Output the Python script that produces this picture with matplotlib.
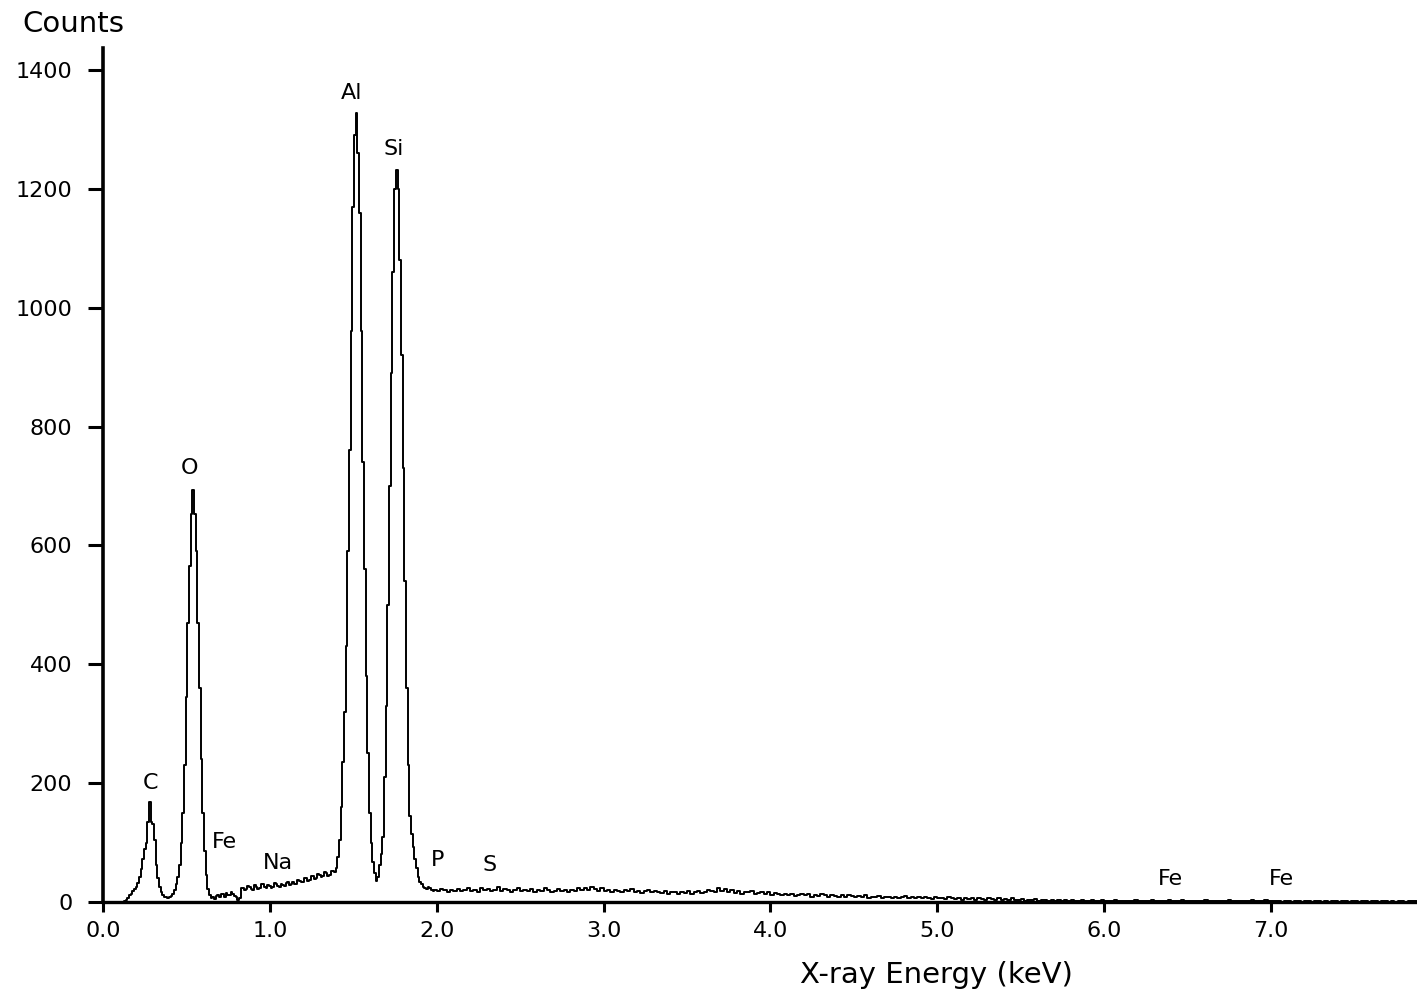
import numpy as np
import matplotlib
matplotlib.use("Agg")
import matplotlib.pyplot as plt

# ---- data -------------------------------------------------------------
# fine channels (0.01 keV) covering the peak region, 0.12 .. 1.99 keV
fine_start = 0.12
fine_width = 0.01
fine_counts = [
    0, 2, 4, 7, 11, 14, 18, 22, 26, 32,
    42, 55, 72, 90, 100, 135, 168, 135, 132, 104,
    62, 40, 25, 16, 12, 9, 8, 7, 9, 10,
    14, 20, 30, 42, 62, 100, 150, 230, 345, 470,
    565, 653, 693, 653, 590, 470, 360, 240, 150, 85,
    45, 22, 12, 6, 8, 5, 10, 12, 8, 14,
    13, 9, 15, 12, 11, 16, 14, 10, 9, 4,
    7, 24, 24, 20, 22, 27, 25, 22, 21, 28,
    26, 22, 24, 31, 30, 25, 23, 28, 27, 24,
    25, 32, 31, 27, 26, 30, 29, 27, 32, 34,
    28, 31, 33, 30, 31, 37, 36, 33, 34, 41,
    40, 36, 37, 44, 43, 39, 41, 47, 46, 42,
    44, 50, 48, 44, 46, 53, 52, 50, 58, 75,
    105, 160, 235, 320, 430, 590, 760, 960, 1170, 1290,
    1328, 1260, 1160, 960, 740, 560, 380, 250, 150, 100,
    68, 48, 36, 42, 62, 80, 110, 210, 330, 500,
    700, 890, 1060, 1200, 1232, 1200, 1080, 920, 730, 540,
    360, 230, 145, 115, 92, 72, 58, 42, 34, 30,
    26, 24, 22, 25, 24, 20, 19, 21,
]

# coarse channels (0.02 keV) for the background, 2.01 .. 7.87 keV
coarse_start = 2.01
coarse_width = 0.02
coarse_counts = [
    18, 22, 20, 17, 21, 19,
    22, 18, 20, 23, 19, 21, 17, 24, 20, 22, 18, 21, 25, 19, 22, 20, 17, 21, 23, 19,
    20, 18, 22, 17, 21, 19, 23, 20, 16, 19, 22, 18, 20, 17, 21, 19, 23, 20, 24, 21,
    26, 22, 19, 23, 18, 20, 17, 21, 19, 16, 20, 18, 22, 17, 19, 15, 18, 20, 16, 19,
    17, 15, 18, 14, 17, 16, 13, 17, 15, 18, 14, 16, 19, 15, 17, 21, 18, 16, 24, 19,
    22, 17, 20, 15, 18, 14, 17, 16, 19, 13, 15, 17, 14, 16, 12, 15, 13, 11, 14, 12,
    13, 10, 12, 14, 11, 13, 9, 12, 10, 13, 11, 9, 12, 10, 8, 11, 9, 12, 10, 8,
    10, 9, 11, 7, 9, 8, 10, 7, 9, 8, 6, 9, 7, 8, 10, 6, 8, 7, 9, 6,
    8, 7, 5, 8, 6, 7, 5, 8, 6, 5, 7, 4, 6, 5, 7, 4, 6, 5, 3, 6,
    5, 4, 6, 3, 5, 4, 6, 3, 4, 5, 2, 4, 3, 5, 2, 3, 4, 2, 3, 2,
    3, 2, 4, 2, 3, 1, 2, 3, 1, 2, 4, 2, 1, 3, 2, 1, 2, 3, 1, 2,
    1, 2, 1, 3, 2, 1, 2, 1, 3, 1, 2, 1, 2, 4, 1, 2, 1, 3, 1, 2,
    1, 2, 1, 1, 3, 1, 2, 1, 1, 2, 1, 3, 1, 2, 1, 1, 2, 1, 3, 1,
    2, 1, 3, 1, 1, 2, 1, 0, 1, 1, 0, 1, 1, 0, 1, 1, 0, 1, 1, 0,
    1, 0, 1, 1, 0, 2, 1, 0, 1, 1, 0, 1, 1, 0, 1, 2, 0, 1, 1, 0,
    1, 0, 1, 1, 0, 1, 1, 1,
]

peak_labels = ["C", "O", "Fe", "Na", "Al", "Si", "P", "S", "Fe", "Fe"]
label_energy = [0.282, 0.521, 0.725, 1.049, 1.492, 1.744, 2.008, 2.319, 6.40, 7.06]
label_counts = [200, 730, 101, 66, 1361, 1267, 71, 62, 39, 39]

x_ticks = [0.0, 1.0, 2.0, 3.0, 4.0, 5.0, 6.0, 7.0]
x_tick_labels = ["0.0", "1.0", "2.0", "3.0", "4.0", "5.0", "6.0", "7.0"]
y_ticks = [0, 200, 400, 600, 800, 1000, 1200, 1400]

energy = np.concatenate([
    fine_start + fine_width * np.arange(len(fine_counts)),
    coarse_start + coarse_width * np.arange(len(coarse_counts)),
])
counts = np.concatenate([fine_counts, coarse_counts])

# ---- figure -----------------------------------------------------------
plt.rcParams['font.family'] = ['DejaVu Sans']
fig = plt.figure(figsize=(14.17, 9.99), dpi=100)
ax = fig.add_axes([103 / 1417, 1 - 902 / 999, 1 - 103 / 1417, (902 - 48) / 999])

ax.plot(energy, counts, drawstyle="steps-mid", color="black", lw=1.4)

ax.set_xlim(0, 7.875)
ax.set_ylim(0, 1437)

for s in ["top", "right"]:
    ax.spines[s].set_visible(False)
ax.spines["left"].set_linewidth(2.6)
ax.spines["bottom"].set_linewidth(2.4)

ax.set_xticks(x_ticks)
ax.set_xticklabels(x_tick_labels)
ax.set_yticks(y_ticks)
ax.tick_params(axis="x", direction="out", length=7, width=2.2, pad=7, labelsize=16)
ax.tick_params(axis="y", direction="out", length=11, width=2.2, pad=11, labelsize=16)

for lab, e, c in zip(peak_labels, label_energy, label_counts):
    ax.text(e, c, lab, ha="center", va="center", fontsize=16, color="black")

fig.text(22 / 1417, 1 - 24 / 999, "Counts", ha="left", va="center", fontsize=21)
fig.text(936 / 1417, 1 - 975 / 999, "X-ray Energy (keV)", ha="center", va="center", fontsize=21)

fig.savefig("out.png", dpi=100)
